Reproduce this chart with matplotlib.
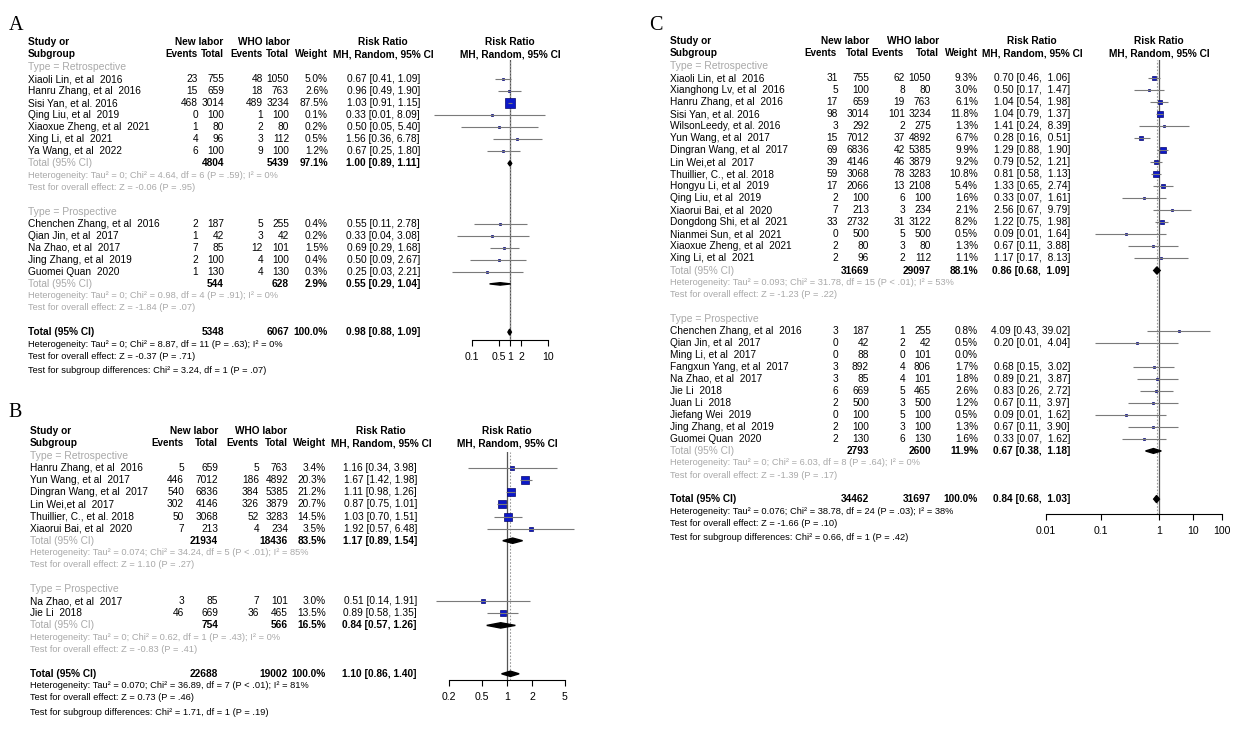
import matplotlib.pyplot as plt
from matplotlib.patches import Polygon
from matplotlib.ticker import NullLocator
from matplotlib.transforms import blended_transform_factory

plt.rcParams["font.family"] = ["Liberation Sans", "DejaVu Sans"]

W, H = 1257, 739
GRAY = "#a9a9a9"
SQUARE_FACE = "#0c18c8"
SQUARE_EDGE = "#06066e"
FS = 7.3
FS_HEAD = 7.1
FS_SMALL = 6.65

# ---------------- panel A ----------------
a_groups = ["Type = Retrospective", "Type = Prospective"]
a_group_sizes = [7, 5]
a_study = ["Xiaoli Lin, et al  2016", "Hanru Zhang, et al  2016", "Sisi Yan, et al. 2016",
           "Qing Liu, et al  2019", "Xiaoxue Zheng, et al  2021", "Xing Li, et al  2021",
           "Ya Wang, et al  2022",
           "Chenchen Zhang, et al  2016", "Qian Jin, et al  2017", "Na Zhao, et al  2017",
           "Jing Zhang, et al  2019", "Guomei Quan  2020"]
a_new_events = [23, 15, 468, 0, 1, 4, 6, 2, 1, 7, 2, 1]
a_new_total = [755, 659, 3014, 100, 80, 96, 100, 187, 42, 85, 100, 130]
a_who_events = [48, 18, 489, 1, 2, 3, 9, 5, 3, 12, 4, 4]
a_who_total = [1050, 763, 3234, 100, 80, 112, 100, 255, 42, 101, 100, 130]
a_weight = [5.0, 2.6, 87.5, 0.1, 0.2, 0.5, 1.2, 0.4, 0.2, 1.5, 0.4, 0.3]
a_rr = [0.67, 0.96, 1.03, 0.33, 0.50, 1.56, 0.67, 0.55, 0.33, 0.69, 0.50, 0.25]
a_lo = [0.41, 0.49, 0.91, 0.01, 0.05, 0.36, 0.25, 0.11, 0.04, 0.29, 0.09, 0.03]
a_hi = [1.09, 1.90, 1.15, 8.09, 5.40, 6.78, 1.80, 2.78, 3.08, 1.68, 2.67, 2.21]
a_sub_new = [4804, 544]
a_sub_who = [5439, 628]
a_sub_weight = [97.1, 2.9]
a_sub_rr = [1.00, 0.55]
a_sub_lo = [0.89, 0.29]
a_sub_hi = [1.11, 1.04]
a_sub_het = ["Heterogeneity: Tau² = 0; Chi² = 4.64, df = 6 (P = .59); I² = 0%",
             "Heterogeneity: Tau² = 0; Chi² = 0.98, df = 4 (P = .91); I² = 0%"]
a_sub_z = ["Test for overall effect: Z = -0.06 (P = .95)",
           "Test for overall effect: Z = -1.84 (P = .07)"]
a_all = [5348, 6067, 100.0, 0.98, 0.88, 1.09]
a_all_het = "Heterogeneity: Tau² = 0; Chi² = 8.87, df = 11 (P = .63); I² = 0%"
a_all_z = "Test for overall effect: Z = -0.37 (P = .71)"
a_diff = "Test for subgroup differences: Chi² = 3.24, df = 1 (P = .07)"
a_ticks = [0.1, 0.5, 1, 2, 10]
a_tick_labels = ["0.1", "0.5", "1", "2", "10"]

# ---------------- panel B ----------------
b_groups = ["Type = Retrospective", "Type = Prospective"]
b_group_sizes = [6, 2]
b_study = ["Hanru Zhang, et al  2016", "Yun Wang, et al  2017", "Dingran Wang, et al  2017",
           "Lin Wei,et al  2017", "Thuillier, C., et al. 2018", "Xiaorui Bai, et al  2020",
           "Na Zhao, et al  2017", "Jie Li  2018"]
b_new_events = [5, 446, 540, 302, 50, 7, 3, 46]
b_new_total = [659, 7012, 6836, 4146, 3068, 213, 85, 669]
b_who_events = [5, 186, 384, 326, 52, 4, 7, 36]
b_who_total = [763, 4892, 5385, 3879, 3283, 234, 101, 465]
b_weight = [3.4, 20.3, 21.2, 20.7, 14.5, 3.5, 3.0, 13.5]
b_rr = [1.16, 1.67, 1.11, 0.87, 1.03, 1.92, 0.51, 0.89]
b_lo = [0.34, 1.42, 0.98, 0.75, 0.70, 0.57, 0.14, 0.58]
b_hi = [3.98, 1.98, 1.26, 1.01, 1.51, 6.48, 1.91, 1.35]
b_sub_new = [21934, 754]
b_sub_who = [18436, 566]
b_sub_weight = [83.5, 16.5]
b_sub_rr = [1.17, 0.84]
b_sub_lo = [0.89, 0.57]
b_sub_hi = [1.54, 1.26]
b_sub_het = ["Heterogeneity: Tau² = 0.074; Chi² = 34.24, df = 5 (P < .01); I² = 85%",
             "Heterogeneity: Tau² = 0; Chi² = 0.62, df = 1 (P = .43); I² = 0%"]
b_sub_z = ["Test for overall effect: Z = 1.10 (P = .27)",
           "Test for overall effect: Z = -0.83 (P = .41)"]
b_all = [22688, 19002, 100.0, 1.10, 0.86, 1.40]
b_all_het = "Heterogeneity: Tau² = 0.070; Chi² = 36.89, df = 7 (P < .01); I² = 81%"
b_all_z = "Test for overall effect: Z = 0.73 (P = .46)"
b_diff = "Test for subgroup differences: Chi² = 1.71, df = 1 (P = .19)"
b_ticks = [0.2, 0.5, 1, 2, 5]
b_tick_labels = ["0.2", "0.5", "1", "2", "5"]

# ---------------- panel C ----------------
c_groups = ["Type = Retrospective", "Type = Prospective"]
c_group_sizes = [16, 10]
c_study = ["Xiaoli Lin, et al  2016", "Xianghong Lv, et al  2016", "Hanru Zhang, et al  2016",
           "Sisi Yan, et al. 2016", "WilsonLeedy, et al. 2016", "Yun Wang, et al  2017",
           "Dingran Wang, et al  2017", "Lin Wei,et al  2017", "Thuillier, C., et al. 2018",
           "Hongyu Li, et al  2019", "Qing Liu, et al  2019", "Xiaorui Bai, et al  2020",
           "Dongdong Shi, et al  2021", "Nianmei Sun, et al  2021", "Xiaoxue Zheng, et al  2021",
           "Xing Li, et al  2021",
           "Chenchen Zhang, et al  2016", "Qian Jin, et al  2017", "Ming Li, et al  2017",
           "Fangxun Yang, et al  2017", "Na Zhao, et al  2017", "Jie Li  2018", "Juan Li  2018",
           "Jiefang Wei  2019", "Jing Zhang, et al  2019", "Guomei Quan  2020"]
c_new_events = [31, 5, 17, 98, 3, 15, 69, 39, 59, 17, 2, 7, 33, 0, 2, 2,
                3, 0, 0, 3, 3, 6, 2, 0, 2, 2]
c_new_total = [755, 100, 659, 3014, 292, 7012, 6836, 4146, 3068, 2066, 100, 213, 2732, 500, 80, 96,
               187, 42, 88, 892, 85, 669, 500, 100, 100, 130]
c_who_events = [62, 8, 19, 101, 2, 37, 42, 46, 78, 13, 6, 3, 31, 5, 3, 2,
                1, 2, 0, 4, 4, 5, 3, 5, 3, 6]
c_who_total = [1050, 80, 763, 3234, 275, 4892, 5385, 3879, 3283, 2108, 100, 234, 3122, 500, 80, 112,
               255, 42, 101, 806, 101, 465, 500, 100, 100, 130]
c_weight = [9.3, 3.0, 6.1, 11.8, 1.3, 6.7, 9.9, 9.2, 10.8, 5.4, 1.6, 2.1, 8.2, 0.5, 1.3, 1.1,
            0.8, 0.5, 0.0, 1.7, 1.8, 2.6, 1.2, 0.5, 1.3, 1.6]
c_rr = [0.70, 0.50, 1.04, 1.04, 1.41, 0.28, 1.29, 0.79, 0.81, 1.33, 0.33, 2.56, 1.22, 0.09, 0.67, 1.17,
        4.09, 0.20, None, 0.68, 0.89, 0.83, 0.67, 0.09, 0.67, 0.33]
c_lo = [0.46, 0.17, 0.54, 0.79, 0.24, 0.16, 0.88, 0.52, 0.58, 0.65, 0.07, 0.67, 0.75, 0.01, 0.11, 0.17,
        0.43, 0.01, None, 0.15, 0.21, 0.26, 0.11, 0.01, 0.11, 0.07]
c_hi = [1.06, 1.47, 1.98, 1.37, 8.39, 0.51, 1.90, 1.21, 1.13, 2.74, 1.61, 9.79, 1.98, 1.64, 3.88, 8.13,
        39.02, 4.04, None, 3.02, 3.87, 2.72, 3.97, 1.62, 3.90, 1.62]
c_sub_new = [31669, 2793]
c_sub_who = [29097, 2600]
c_sub_weight = [88.1, 11.9]
c_sub_rr = [0.86, 0.67]
c_sub_lo = [0.68, 0.38]
c_sub_hi = [1.09, 1.18]
c_sub_het = ["Heterogeneity: Tau² = 0.093; Chi² = 31.78, df = 15 (P < .01); I² = 53%",
             "Heterogeneity: Tau² = 0; Chi² = 6.03, df = 8 (P = .64); I² = 0%"]
c_sub_z = ["Test for overall effect: Z = -1.23 (P = .22)",
           "Test for overall effect: Z = -1.39 (P = .17)"]
c_all = [34462, 31697, 100.0, 0.84, 0.68, 1.03]
c_all_het = "Heterogeneity: Tau² = 0.076; Chi² = 38.78, df = 24 (P = .03); I² = 38%"
c_all_z = "Test for overall effect: Z = -1.66 (P = .10)"
c_diff = "Test for subgroup differences: Chi² = 0.66, df = 1 (P = .42)"
c_ticks = [0.01, 0.1, 1, 10, 100]
c_tick_labels = ["0.01", "0.1", "1", "10", "100"]


def rr_text(rr, lo, hi, padded):
    if rr is None:
        return ""
    if padded:
        return f"{rr:.2f} [{lo:.2f}, {hi:5.2f}]"
    return f"{rr:.2f} [{lo:.2f}, {hi:.2f}]"


def draw_panel(fig, d, lay):
    y0, dy = lay["y0"], lay["dy"]
    left, right = lay["ax_px"]
    top, bottom = lay["top_px"], lay["axis_px"]
    one, ppd = lay["one_px"], lay["ppd"]

    ax = fig.add_axes([left / W, 1 - bottom / H, (right - left) / W, (bottom - top) / H])
    ax.set_xscale("log")
    ax.set_xlim(10 ** ((left - one) / ppd), 10 ** ((right - one) / ppd))
    ax.set_ylim((bottom - y0) / dy, (top - y0) / dy)
    ax.patch.set_alpha(0)
    for s in ["top", "left", "right"]:
        ax.spines[s].set_visible(False)
    # the printed axis of panel C is spread wider than its data scale
    if "tick_px" in lay:
        ticks = [10 ** ((px - one) / ppd) for px in lay["tick_px"]]
    else:
        ticks = d["ticks"]
    ax.spines["bottom"].set_bounds(ticks[0], ticks[-1])
    ax.spines["bottom"].set_linewidth(0.8)
    ax.set_yticks([])
    ax.set_xticks(ticks)
    ax.set_xticklabels(d["tick_labels"])
    ax.xaxis.set_minor_locator(NullLocator())
    ax.tick_params(axis="x", length=4.5, width=0.8, labelsize=7.6, pad=4)

    tr = blended_transform_factory(fig.transFigure, ax.transData)

    def put(px, row, s, **kw):
        kw.setdefault("fontsize", FS)
        kw.setdefault("va", "center")
        ax.text(px / W, row, s, transform=tr, **kw)

    nr = lay["num_right"]
    hr = lay["head_right"]

    # header
    fig.text(lay["label_xy"][0] / W, 1 - lay["label_xy"][1] / H, lay["label"],
             family=["Liberation Serif", "DejaVu Serif"], fontsize=14.5, ha="center", va="center")
    put(lay["study_x"], -2.05, "Study or", fontweight="bold")
    put(lay["study_x"], -1.05, "Subgroup", fontweight="bold")
    put(lay["new_head"], -2.05, "New labor", fontweight="bold", ha="center")
    put(lay["who_head"], -2.05, "WHO labor", fontweight="bold", ha="center")
    for px, s in zip(hr, ["Events", "Total", "Events", "Total", "Weight"]):
        put(px, -1.05, s, fontweight="bold", ha="right", fontsize=FS_HEAD)
    for px in [lay["rr_head"], one]:
        put(px, -2.05, "Risk Ratio", fontweight="bold", ha="center")
        put(px, -1.05, "MH, Random, 95% CI", fontweight="bold", ha="center")

    wmax = max(d["weight"])
    r = 0
    i = 0
    for g, n in enumerate(d["group_sizes"]):
        put(lay["study_x"], r, d["groups"][g], color=GRAY, fontsize=7.5)
        for k in range(n):
            row = r + 1 + k
            put(lay["study_x"], row, d["study"][i])
            vals = [d["new_events"][i], d["new_total"][i], d["who_events"][i], d["who_total"][i]]
            for px, v in zip(nr[:4], vals):
                put(px, row, str(v), ha="right")
            put(nr[4], row, f"{d['weight'][i]:.1f}%", ha="right")
            rr, lo, hi = d["rr"][i], d["lo"][i], d["hi"][i]
            put(lay["rr_right"], row, rr_text(rr, lo, hi, lay["padded"]), ha="right")
            if rr is not None:
                ax.plot([lo, hi], [row, row], color="#7a7a7a", lw=0.8, zorder=3,
                        solid_capstyle="butt")
                side = max(lay["max_sq"] * (d["weight"][i] / wmax) ** 0.5, 2.2)
                ax.plot(rr, row, marker="s", ms=side * 0.72, mfc=SQUARE_FACE,
                        mec=SQUARE_EDGE, mew=0.5, zorder=2, ls="none")
            i += 1
        tr_row = r + n + 1
        put(lay["study_x"], tr_row, "Total (95% CI)", color=GRAY)
        put(nr[1], tr_row, str(d["sub_new"][g]), ha="right", fontweight="bold")
        put(nr[3], tr_row, str(d["sub_who"][g]), ha="right", fontweight="bold")
        put(nr[4], tr_row, f"{d['sub_weight'][g]:.1f}%", ha="right", fontweight="bold")
        put(lay["rr_right"], tr_row,
            rr_text(d["sub_rr"][g], d["sub_lo"][g], d["sub_hi"][g], lay["padded"]),
            ha="right", fontweight="bold")
        h = lay["diamond_h"][g]
        ax.add_patch(Polygon([(d["sub_lo"][g], tr_row), (d["sub_rr"][g], tr_row - h),
                              (d["sub_hi"][g], tr_row), (d["sub_rr"][g], tr_row + h)],
                             closed=True, color="black", zorder=4))
        put(lay["study_x"], tr_row + 1, d["sub_het"][g], color=GRAY, fontsize=FS_SMALL)
        put(lay["study_x"], tr_row + 2, d["sub_z"][g], color=GRAY, fontsize=FS_SMALL)
        r = tr_row + 4

    new_all, who_all, w_all, rr_all, lo_all, hi_all = d["all"]
    put(lay["study_x"], r, "Total (95% CI)", fontweight="bold")
    put(nr[1], r, str(new_all), ha="right", fontweight="bold")
    put(nr[3], r, str(who_all), ha="right", fontweight="bold")
    put(nr[4], r, f"{w_all:.1f}%", ha="right", fontweight="bold")
    put(lay["rr_right"], r, rr_text(rr_all, lo_all, hi_all, lay["padded"]),
        ha="right", fontweight="bold")
    h = lay["diamond_h"][-1]
    ax.add_patch(Polygon([(lo_all, r), (rr_all, r - h), (hi_all, r), (rr_all, r + h)],
                         closed=True, color="black", zorder=4))
    put(lay["study_x"], r + 1, d["all_het"], fontsize=FS_SMALL)
    put(lay["study_x"], r + 2, d["all_z"], fontsize=FS_SMALL)
    put(lay["study_x"], r + 3.2, d["diff"], fontsize=FS_SMALL)

    ax.axvline(1, color="#555555", lw=0.9, zorder=1)
    ax.axvline(rr_all, color="#999999", lw=0.8, ls=(0, (1.5, 1.5)), zorder=1)
    return ax


def pack(p):
    g = globals()
    keys = ["groups", "group_sizes", "study", "new_events", "new_total", "who_events",
            "who_total", "weight", "rr", "lo", "hi", "sub_new", "sub_who", "sub_weight",
            "sub_rr", "sub_lo", "sub_hi", "sub_het", "sub_z", "all", "all_het", "all_z",
            "diff", "ticks", "tick_labels"]
    return {k: g[f"{p}_{k}"] for k in keys}


layout_a = dict(label="A", label_xy=(16, 26), y0=67, dy=12.05, study_x=28,
                num_right=[198, 224, 263, 289, 328], head_right=[198, 224, 263, 289, 328],
                new_head=199, who_head=264, rr_right=420, rr_head=383,
                one_px=510, ppd=38, ax_px=(425, 575), top_px=60, axis_px=340,
                max_sq=9.5, diamond_h=[0.22, 0.1, 0.25], padded=False)
layout_b = dict(label="B", label_xy=(15, 413), y0=456, dy=12.1, study_x=30,
                num_right=[184, 218, 259, 288, 326], head_right=[184, 218, 259, 288, 326],
                new_head=194, who_head=261, rr_right=417, rr_head=381,
                one_px=507, ppd=83, ax_px=(430, 590), top_px=452, axis_px=680,
                max_sq=8.5, diamond_h=[0.22, 0.22, 0.22], padded=False)
layout_c = dict(label="C", label_xy=(656, 25), y0=66, dy=12.03, study_x=670,
                num_right=[838, 869, 905, 931, 978], head_right=[837, 869, 904, 939, 978],
                new_head=845, who_head=913, rr_right=1070, rr_head=1032,
                one_px=1159, ppd=32, ax_px=(1030, 1245), top_px=60, axis_px=514,
                tick_px=[1046, 1101, 1159, 1193, 1222],
                max_sq=5.5, diamond_h=[0.3, 0.2, 0.3], padded=True)

fig = plt.figure(figsize=(W / 100, H / 100), dpi=100)
fig.patch.set_facecolor("white")
draw_panel(fig, pack("a"), layout_a)
draw_panel(fig, pack("b"), layout_b)
draw_panel(fig, pack("c"), layout_c)
fig.savefig("out.png", dpi=100, facecolor="white")
